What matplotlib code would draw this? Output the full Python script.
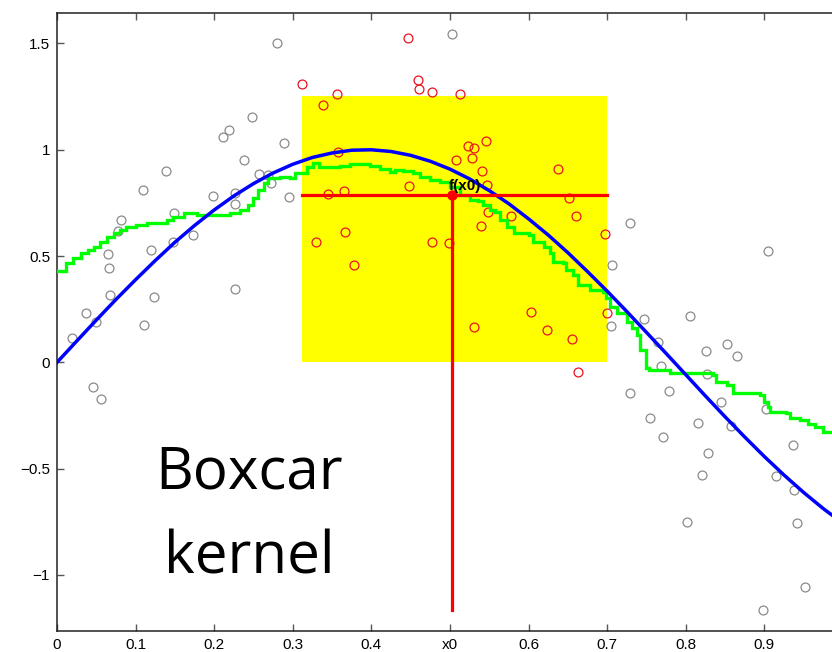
import matplotlib
matplotlib.use("Agg")
import matplotlib.pyplot as plt
from matplotlib.patches import Rectangle

# ---------------- data ----------------
gray_x = [0.0187, 0.0369, 0.0454, 0.0496, 0.0560, 0.0649, 0.0662, 0.0674, 0.078, 0.081,
          0.1098, 0.1107, 0.1192, 0.1234, 0.1387, 0.1472, 0.1489, 0.1734, 0.198, 0.2116,
          0.2192, 0.2261, 0.2269, 0.2269, 0.2383, 0.2477, 0.2566, 0.2689, 0.2718, 0.2795,
          0.2892, 0.2956, 0.5025, 0.7048, 0.7061, 0.7286, 0.7294, 0.7464, 0.754, 0.7642,
          0.768, 0.771, 0.779, 0.8015, 0.8058, 0.8155, 0.8202, 0.8261, 0.827, 0.8282,
          0.8452, 0.8524, 0.8575, 0.8656, 0.8978, 0.9016, 0.9046, 0.9148, 0.9368, 0.938,
          0.942, 0.952]
gray_y = [0.116, 0.230, -0.118, 0.190, -0.171, 0.508, 0.442, 0.317, 0.619, 0.668,
          0.810, 0.175, 0.528, 0.306, 0.901, 0.567, 0.705, 0.599, 0.785, 1.058,
          1.091, 0.745, 0.798, 0.345, 0.952, 1.152, 0.886, 0.881, 0.842, 1.503,
          1.033, 0.776, 1.543, 0.172, 0.456, 0.657, -0.143, 0.205, -0.260, 0.095,
          -0.017, -0.351, -0.135, -0.751, 0.219, -0.284, -0.529, 0.053, -0.056, -0.425,
          -0.185, 0.085, -0.300, 0.030, -1.165, -0.220, 0.524, -0.535, -0.389, -0.601,
          -0.757, -1.055]

red_x = [0.3121, 0.3295, 0.3388, 0.3444, 0.3566, 0.3579, 0.3651, 0.366, 0.3779, 0.4462,
         0.4482, 0.4597, 0.461, 0.4767, 0.4775, 0.4991, 0.5076, 0.5123, 0.5233, 0.5276,
         0.531, 0.531, 0.5394, 0.5407, 0.5462, 0.5467, 0.5487, 0.5772, 0.6027, 0.623,
         0.6374, 0.651, 0.6548, 0.660, 0.6624, 0.6972, 0.6997]
red_y = [1.309, 0.564, 1.210, 0.792, 1.262, 0.991, 0.804, 0.611, 0.456, 1.524,
         0.831, 1.328, 1.284, 0.564, 1.270, 0.560, 0.950, 1.261, 1.019, 0.960,
         1.007, 0.166, 0.641, 0.901, 1.041, 0.834, 0.708, 0.688, 0.235, 0.152,
         0.909, 0.771, 0.110, 0.688, -0.047, 0.602, 0.233]

# true curve
blue_x = [0.0, 0.025, 0.05, 0.075, 0.10, 0.125, 0.15, 0.175, 0.20, 0.225, 0.25,
          0.275, 0.30, 0.325, 0.35, 0.375, 0.40, 0.425, 0.45, 0.475, 0.50,
          0.525, 0.55, 0.575, 0.60, 0.625, 0.65, 0.675, 0.70, 0.725, 0.75,
          0.775, 0.80, 0.825, 0.85, 0.875, 0.90, 0.925, 0.95, 0.975, 1.00]
blue_y = [0.0, 0.100, 0.199, 0.296, 0.389, 0.479, 0.565, 0.644, 0.717, 0.783, 0.841,
          0.891, 0.932, 0.964, 0.985, 0.998, 1.0, 0.992, 0.974, 0.946, 0.909,
          0.863, 0.808, 0.746, 0.675, 0.599, 0.516, 0.427, 0.335, 0.239, 0.141,
          0.042, -0.058, -0.158, -0.256, -0.351, -0.443, -0.530, -0.612, -0.688, -0.757]

# boxcar smoother (step curve)
green_x = [0.0, 0.012, 0.020, 0.030, 0.040, 0.047, 0.055, 0.063, 0.072, 0.080,
           0.088, 0.101, 0.114, 0.140, 0.148, 0.161, 0.178, 0.220, 0.233, 0.243,
           0.250, 0.256, 0.263, 0.269, 0.284, 0.296, 0.303, 0.318, 0.326, 0.333,
           0.360, 0.373, 0.398, 0.411, 0.424, 0.430, 0.440, 0.453, 0.462, 0.475,
           0.487, 0.500, 0.513, 0.525, 0.535, 0.542, 0.551, 0.557, 0.564, 0.572,
           0.581, 0.600, 0.606, 0.619, 0.627, 0.631, 0.644, 0.648, 0.657, 0.663,
           0.678, 0.695, 0.699, 0.704, 0.712, 0.725, 0.731, 0.738, 0.742, 0.750,
           0.753, 0.780, 0.835, 0.839, 0.852, 0.860, 0.894, 0.899, 0.905, 0.907,
           0.928, 0.932, 0.945, 0.955, 0.965, 0.975, 1.0]
green_y = [0.431, 0.466, 0.489, 0.513, 0.528, 0.544, 0.567, 0.588, 0.607, 0.622,
           0.638, 0.646, 0.657, 0.669, 0.685, 0.701, 0.693, 0.701, 0.716, 0.740,
           0.771, 0.810, 0.842, 0.865, 0.873, 0.865, 0.889, 0.920, 0.936, 0.920,
           0.925, 0.933, 0.925, 0.912, 0.894, 0.905, 0.900, 0.889, 0.873, 0.858,
           0.849, 0.826, 0.787, 0.764, 0.757, 0.740, 0.716, 0.708, 0.669, 0.638,
           0.607, 0.599, 0.567, 0.544, 0.513, 0.473, 0.466, 0.434, 0.411, 0.364,
           0.340, 0.332, 0.301, 0.262, 0.230, 0.191, 0.160, 0.128, 0.058, -0.028,
           -0.036, -0.052, -0.060, -0.091, -0.107, -0.146, -0.154, -0.185, -0.209, -0.232,
           -0.240, -0.263, -0.271, -0.290, -0.303, -0.326, -0.330]

box_x = [0.312, 0.700]
box_y = [0.0, 1.254]
x0 = 0.502
f_x0 = 0.788
line_bottom = -1.165

xticks = [0.0, 0.1, 0.2, 0.3, 0.4, 0.5, 0.6, 0.7, 0.8, 0.9]
xtick_labels = ["0", "0.1", "0.2", "0.3", "0.4", "x0", "0.6", "0.7", "0.8", "0.9"]
yticks = [-1.0, -0.5, 0.0, 0.5, 1.0, 1.5]
ytick_labels = ["\u22121", "\u22120.5", "0", "0.5", "1", "1.5"]

# ---------------- figure ----------------
W, H = 832, 652
fig = plt.figure(figsize=(W / 100, H / 100), dpi=100)
ax = fig.add_axes([57 / W, 21.3 / H, 786 / W, 617.4 / H])
ax.set_xlim(0, 1.0)
ax.set_ylim(-1.262, 1.642)

ax.add_patch(Rectangle((box_x[0], box_y[0]), box_x[1] - box_x[0], box_y[1] - box_y[0],
                       facecolor="#ffff00", edgecolor="none", zorder=1))

ax.plot(gray_x, gray_y, linestyle="none", marker="o", markersize=6.4,
        markerfacecolor="none", markeredgecolor="#8a8a8a", markeredgewidth=0.9, zorder=2)
ax.plot(red_x, red_y, linestyle="none", marker="o", markersize=6.4,
        markerfacecolor="none", markeredgecolor="#e8141e", markeredgewidth=0.9, zorder=2)

ax.plot(green_x, green_y, drawstyle="steps-post", color="#00ff00", linewidth=2.4,
        solid_joinstyle="miter", zorder=3)
ax.plot(blue_x, blue_y, color="#0000ff", linewidth=2.5, zorder=4)

ax.plot([box_x[0], box_x[1]], [f_x0, f_x0], color="#ff0000", linewidth=2.3, zorder=5)
ax.plot([x0, x0], [line_bottom, f_x0], color="#ff0000", linewidth=2.3, zorder=5)
ax.plot([x0], [f_x0], marker="o", markersize=6.5, color="#ff0000", zorder=6)
ax.text(x0 - 0.003, 0.813, "f(x0)", fontsize=11, fontweight="bold", color="black",
        family="Liberation Sans", ha="left", va="baseline", zorder=7)

ax.text(0.2445, -0.591, "Boxcar", fontsize=42, family="Open Sans", fontweight="normal",
        ha="center", va="baseline", color="black", zorder=7)
ax.text(0.2445, -0.992, "kernel", fontsize=42, family="Open Sans", fontweight="normal",
        ha="center", va="baseline", color="black", zorder=7)

ax.set_xticks(xticks)
ax.set_xticklabels(xtick_labels)
ax.set_yticks(yticks)
ax.set_yticklabels(ytick_labels)
ax.tick_params(direction="in", length=5, width=1.0, color="#555555", top=True, right=True,
               labelsize=11, pad=5)
for lab in ax.get_xticklabels() + ax.get_yticklabels():
    lab.set_family("Liberation Sans")
for s in ax.spines.values():
    s.set_linewidth(1.1)
    s.set_color("#222222")

fig.savefig("out.png", dpi=100)
